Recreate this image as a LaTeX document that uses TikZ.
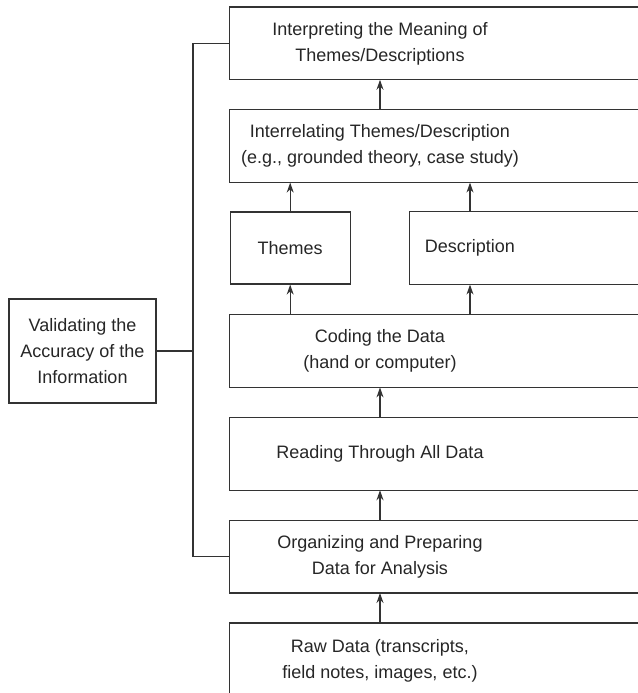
\documentclass[tikz,border=0pt]{standalone}
\usepackage{fontspec}
\setmainfont{Liberation Sans}
\usetikzlibrary{arrows.meta, positioning, calc}

\begin{document}
\begin{tikzpicture}[x=0.5pt, y=-0.5pt,
    every node/.style={font=\fontsize{9}{13}\selectfont, text=black!85},
    % Plain line for boxes and the side links
    boxline/.style={draw=black!80, line width=0.6pt},
    % Stage boxes: open on the right, running off the page
    openbox/.style={minimum width=150pt, minimum height=36pt, inner sep=0pt, align=center,
        append after command={\pgfextra{\draw[boxline]
            ([xshift=60pt]\tikzlastnode.north east) -- (\tikzlastnode.north west)
            -- (\tikzlastnode.south west) -- ([xshift=60pt]\tikzlastnode.south east);}}},
    % Closed boxes
    sidebox/.style={boxline, minimum width=60pt, minimum height=36pt, inner sep=0pt, align=center},
    validbox/.style={boxline, minimum width=73.5pt, minimum height=52pt, inner sep=0pt, align=center},
    flow/.style={draw=black!80, line width=0.6pt, -{Stealth[length=5pt, width=3.5pt]}}
]
\useasboundingbox (0,0) rectangle (638,693);
\clip (0,0) rectangle (638,693);

% Main column, from the raw data upwards
\node[openbox, minimum height=37pt, anchor=north] (raw) at (380,623)
    {Raw Data (transcripts,\\field notes, images, etc.)};
\node[openbox, above=15pt of raw] (org) {Organizing and Preparing\\Data for Analysis};
\node[openbox, above=15pt of org] (read) {Reading Through All Data};
\node[openbox, above=15pt of read] (code) {Coding the Data\\(hand or computer)};

% Themes and description side by side
\node[sidebox, above right=15pt and 0pt of code.north west] (thm) {Themes};
\node[openbox, minimum width=60pt, above left=15pt and 0pt of code.north east] (desc) {Description};

\node[openbox, above=66pt of code] (rel) {Interrelating Themes/Description\\(e.g., grounded theory, case study)};
\node[openbox, above=15pt of rel] (interp) {Interpreting the Meaning of\\Themes/Descriptions};

% Validation box on the left
\node[validbox, left=36.5pt of code] (valid) {Validating the\\Accuracy of the\\Information};
\coordinate (spine) at ($(valid.east)!0.5!(code.west)$);

% Arrows up the column
\foreach \a/\b in {raw/org, org/read, read/code, rel/interp} {
    \draw[flow] (\a) -- (\b);
}
\draw[flow] (code.north -| thm) -- (thm);
\draw[flow] (code.north -| desc) -- (desc);
\draw[flow] (thm) -- (thm |- rel.south);
\draw[flow] (desc) -- (desc |- rel.south);

% Links from the validation box
\draw[boxline] (interp.west) -| (spine) |- (org.west);
\draw[boxline] (valid) -- (spine);

\end{tikzpicture}
\end{document}
